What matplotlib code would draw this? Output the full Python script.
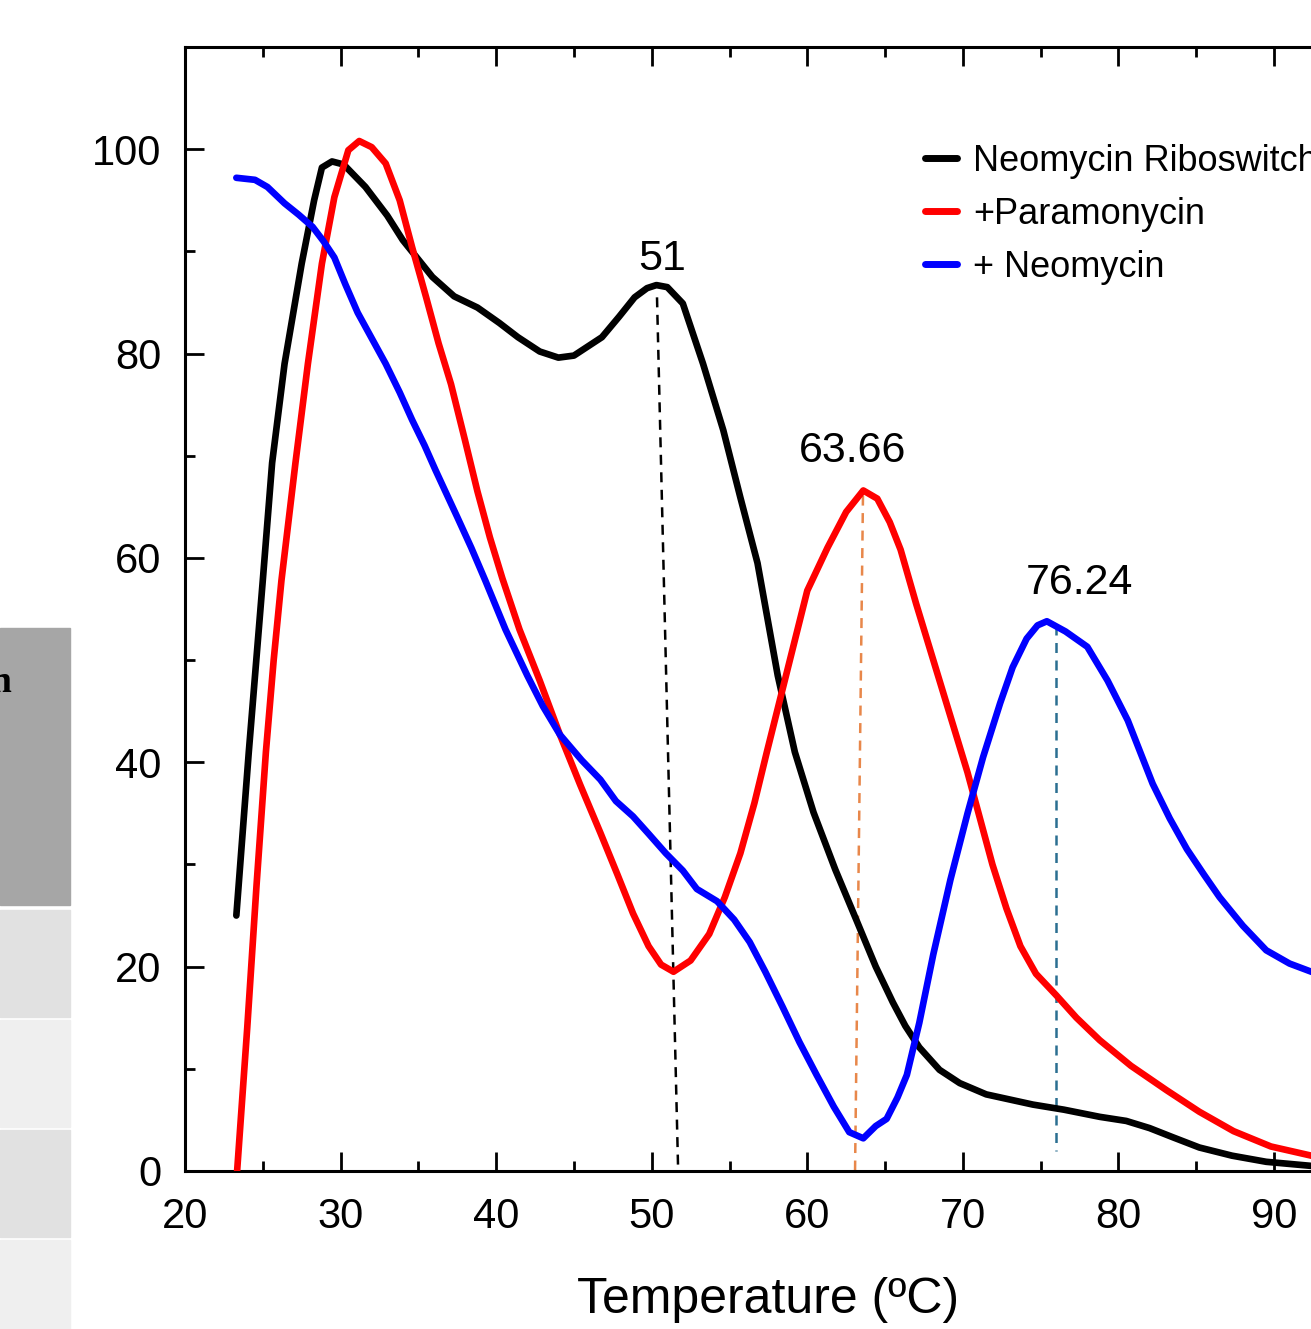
import numpy as np
import matplotlib
matplotlib.use("Agg")
import matplotlib.pyplot as plt
from matplotlib.patches import Rectangle

# ---- data ----
riboswitch_t = [23.3, 24.1, 25.0, 25.6, 26.4, 27.5, 28.3, 28.8, 29.45, 30.2,
                31.6, 33.0, 34.0, 35.9, 37.3, 38.8, 40.2, 41.4, 42.8, 44.0,
                45.0, 46.0, 46.8, 47.9, 48.9, 49.7, 50.3, 51.0, 52.0, 53.3,
                54.6, 55.7, 56.8, 58.1, 59.2, 60.4, 61.8, 63.2, 64.4, 65.5,
                66.3, 67.2, 68.5, 69.8, 71.5, 73.0, 74.5, 76.5, 78.8, 80.5,
                82.0, 83.5, 85.2, 87.3, 89.5, 92.4, 95.0]
riboswitch_y = [25.0, 41.0, 57.8, 69.3, 79.0, 88.8, 95.0, 98.2, 98.8, 98.5,
                96.3, 93.5, 91.1, 87.5, 85.6, 84.5, 83.0, 81.6, 80.2, 79.6,
                79.8, 80.8, 81.6, 83.6, 85.5, 86.4, 86.7, 86.5, 84.9, 79.0,
                72.5, 65.9, 59.5, 48.5, 41.0, 35.1, 29.5, 24.4, 20.0, 16.5,
                14.2, 12.1, 9.9, 8.6, 7.5, 7.0, 6.5, 6.0, 5.3, 4.9,
                4.2, 3.3, 2.3, 1.5, 0.9, 0.5, 0.3]

paramomycin_t = [23.35, 24.0, 24.6, 25.2, 25.7, 26.2, 27.1, 27.9, 28.8, 29.6,
                 30.5, 31.2, 32.0, 32.9, 33.8, 34.6, 35.5, 36.3, 37.1, 38.0,
                 38.8, 39.6, 40.4, 41.5, 42.8, 44.1, 45.4, 46.7, 47.8, 48.8,
                 49.8, 50.6, 51.4, 52.5, 53.7, 54.7, 55.7, 56.6, 57.4, 58.7,
                 60.0, 61.3, 62.5, 63.6, 64.5, 65.3, 66.0, 67.0, 68.1, 69.2,
                 70.3, 71.1, 71.9, 72.8, 73.7, 74.7, 76.0, 77.3, 78.8, 80.8,
                 83.1, 85.2, 87.4, 89.8, 92.4, 95.0]
paramomycin_y = [0.0, 14.0, 28.0, 41.0, 50.0, 57.8, 69.3, 79.0, 88.8, 95.3,
                 99.9, 100.8, 100.2, 98.6, 95.0, 90.4, 85.5, 81.0, 77.0, 71.5,
                 66.5, 62.0, 58.0, 53.0, 48.0, 42.7, 37.8, 33.1, 29.0, 25.2,
                 22.0, 20.2, 19.5, 20.6, 23.2, 26.8, 31.1, 36.0, 41.0, 48.9,
                 56.8, 61.0, 64.5, 66.6, 65.8, 63.5, 60.8, 55.5, 50.0, 44.5,
                 39.0, 34.5, 30.0, 25.7, 22.0, 19.3, 17.2, 15.0, 12.8, 10.3,
                 7.9, 5.8, 3.9, 2.4, 1.5, 0.9]

neomycin_t = [23.3, 24.5, 25.3, 26.4, 27.3, 28.2, 28.9, 29.6, 30.3, 31.1,
              32.0, 32.9, 33.8, 34.6, 35.4, 36.1, 36.8, 37.5, 38.4, 39.3,
              40.6, 42.0, 43.0, 44.1, 45.5, 46.7, 47.7, 48.8, 49.8, 50.9,
              52.0, 52.9, 54.2, 55.3, 56.3, 57.3, 58.4, 59.5, 60.6, 61.7,
              62.7, 63.6, 64.4, 65.1, 65.8, 66.4, 67.2, 68.1, 69.2, 70.3,
              71.3, 72.4, 73.2, 74.1, 74.8, 75.4, 76.6, 78.0, 79.3, 80.6,
              81.4, 82.2, 83.3, 84.4, 85.5, 86.5, 88.0, 89.5, 91.0, 92.4, 95.0]
neomycin_y = [97.2, 97.0, 96.3, 94.7, 93.6, 92.4, 91.0, 89.4, 86.8, 84.0,
              81.5, 79.0, 76.2, 73.5, 71.0, 68.6, 66.3, 64.0, 61.0, 57.8,
              53.0, 48.5, 45.5, 42.7, 40.2, 38.3, 36.2, 34.7, 33.0, 31.1,
              29.4, 27.6, 26.4, 24.6, 22.4, 19.5, 16.1, 12.6, 9.4, 6.3,
              3.8, 3.2, 4.4, 5.1, 7.2, 9.4, 14.5, 21.2, 28.5, 35.0,
              40.5, 45.8, 49.3, 52.1, 53.4, 53.8, 52.8, 51.3, 48.0, 44.1,
              41.0, 37.9, 34.5, 31.5, 29.0, 26.8, 24.0, 21.6, 20.3, 19.5, 18.5]

# peak marker lines: (x top, x bottom), (y top, y bottom)
marker_x = [(50.34, 51.69), (63.58, 63.07), (75.99, 75.99)]
marker_y = [(85.5, 0.6), (66.1, 0.0), (53.4, 2.0)]
marker_colors = ["black", "#e8874a", "#2b6f91"]

peak_labels = ["51", "63.66", "76.24"]
peak_label_x = [50.66, 62.9, 77.5]
peak_label_y = [89.3, 70.5, 57.5]

series_names = ["Neomycin Riboswitch", "+Paramonycin", "+ Neomycin"]
series_colors = ["black", "#ff0000", "#0000ff"]

W, H = 1311, 1329
fig = plt.figure(figsize=(W / 100, H / 100), dpi=100)
fig.patch.set_facecolor("white")


# leftover table fragment at the left edge of the crop
def px_rect(x0, y0, x1, y1, color):
    fig.patches.append(Rectangle((x0 / W, 1 - y1 / H), (x1 - x0) / W, (y1 - y0) / H,
                                 transform=fig.transFigure, color=color, zorder=0))


px_rect(0, 628, 70, 905, "#a6a6a6")
px_rect(0, 910, 70, 1017, "#e1e1e1")
px_rect(0, 1020, 70, 1127, "#efefef")
px_rect(0, 1130, 70, 1237, "#e1e1e1")
px_rect(0, 1240, 70, 1329, "#efefef")
fig.text(12 / W, 1 - 692 / H, "n", ha="right", va="baseline", fontsize=27,
         fontweight="bold", family=["Liberation Serif", "DejaVu Serif"], color="black")

ax_left = 185 / W
ax_bottom = 1 - 1171 / H
ax_height = (1171 - 47) / H
ax_width = 75 * (1089 / 70) / W
ax = fig.add_axes([ax_left, ax_bottom, ax_width, ax_height])

regular = ["Liberation Sans", "DejaVu Sans"]

for t, y, c, name in zip([riboswitch_t, paramomycin_t, neomycin_t],
                         [riboswitch_y, paramomycin_y, neomycin_y],
                         series_colors, series_names):
    ax.plot(t, y, color=c, lw=4.8, label=name, solid_capstyle="round",
            solid_joinstyle="round", zorder=3)

for xs, ys, c in zip(marker_x, marker_y, marker_colors):
    ax.plot(xs, ys, color=c, lw=1.8, ls=(0, (4, 3)), zorder=2)

for lab, lx, ly in zip(peak_labels, peak_label_x, peak_label_y):
    ax.text(lx, ly, lab, ha="center", va="center", fontsize=31, family=regular)

ax.set_xlim(20, 95)
ax.set_ylim(0, 110)
ax.set_xticks(np.arange(20, 95, 10))
ax.set_xticks(np.arange(25, 95, 10), minor=True)
ax.set_yticks(np.arange(0, 101, 20))
ax.set_yticks(np.arange(10, 110, 20), minor=True)

for side in ["left", "top", "bottom", "right"]:
    ax.spines[side].set_linewidth(2.2)
ax.tick_params(which="both", direction="in", top=True, right=False, width=2.0)
ax.tick_params(which="major", length=14, labelsize=30)
ax.tick_params(axis="x", which="major", pad=19)
ax.tick_params(axis="y", which="major", pad=17)
ax.tick_params(which="minor", length=7)
for lbl in ax.get_xticklabels() + ax.get_yticklabels():
    lbl.set_family(regular)

ax.set_xlabel("Temperature (\u00baC)", fontsize=36, family=regular)
ax.xaxis.set_label_coords(0.5, -0.094)

leg = ax.legend(loc="upper left", bbox_to_anchor=(0.634, 0.914), frameon=False,
                handlelength=0.9, handletextpad=0.45,
                labelspacing=0.5, borderpad=0, borderaxespad=0,
                prop={"family": regular, "size": 26})
for h in leg.get_lines():
    h.set_linewidth(5)

fig.savefig("out.png", dpi=100)
